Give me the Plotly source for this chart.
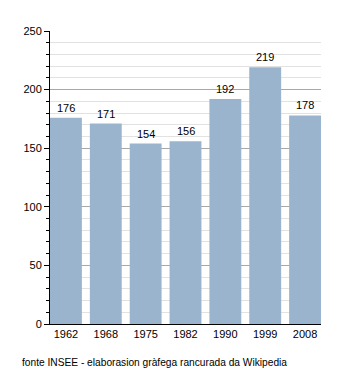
import plotly.graph_objects as go

years = ["1962", "1968", "1975", "1982", "1990", "1999", "2008"]
population = [176, 171, 154, 156, 192, 219, 178]
caption = "fonte INSEE - elaborasion gràfega rancurada da Wikipedia"

fig = go.Figure(go.Bar(
    x=years, y=population,
    marker=dict(color="#9AB4CE", line=dict(width=0)),
))

labels = [dict(x=i, y=v, text=str(v), xref="x", yref="y", yanchor="middle",
               yshift=10, showarrow=False, font=dict(size=11, color="black"))
          for i, v in enumerate(population)]

fig.update_layout(
    width=350, height=373,
    margin=dict(l=50, r=29, t=31, b=49),
    paper_bgcolor="white", plot_bgcolor="white",
    font=dict(family="Liberation Sans, Arial, sans-serif", size=11, color="black"),
    bargap=0.2, showlegend=False,
    xaxis=dict(type="category", range=[-0.4, 6.4], showline=True, linecolor="black",
               linewidth=1, ticks="", showgrid=False, tickfont=dict(size=11)),
    yaxis=dict(range=[0, 250], dtick=50, showline=True, linecolor="black", linewidth=1,
               ticks="outside", ticklen=5, tickcolor="black", gridcolor="#A8A8A8",
               gridwidth=1, zeroline=False, tickfont=dict(size=11),
               minor=dict(dtick=10, ticks="outside", ticklen=3, tickcolor="black",
                          showgrid=True, gridcolor="#E2E2E2", gridwidth=1)),
    annotations=labels + [dict(text=caption, xref="paper", yref="paper", x=-30/271,
                               y=-38/293, xanchor="left", yanchor="middle",
                               showarrow=False, font=dict(size=10.2, color="black"))],
)

fig.write_html("out.html")
